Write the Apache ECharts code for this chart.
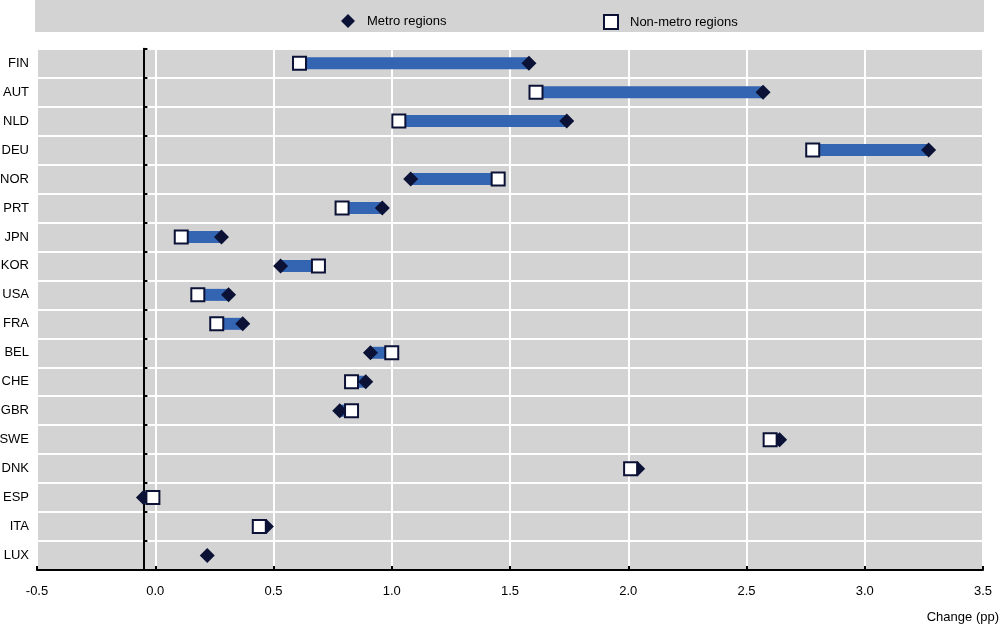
<!DOCTYPE html>
<html>
<head>
<meta charset="utf-8">
<script src="https://cdn.jsdelivr.net/npm/echarts@6/dist/echarts.min.js"></script>
<style>
  html, body { margin: 0; padding: 0; background: #fff; }
  #content { width: 1000px; height: 626px; }
</style>
</head>
<body>
<div id="content"></div>
<script>
// data
let countries = ['FIN', 'AUT', 'NLD', 'DEU', 'NOR', 'PRT', 'JPN', 'KOR', 'USA', 'FRA', 'BEL', 'CHE', 'GBR', 'SWE', 'DNK', 'ESP', 'ITA', 'LUX'];
let metro = [1.58, 2.57, 1.74, 3.27, 1.08, 0.96, 0.28, 0.53, 0.31, 0.37, 0.91, 0.89, 0.78, 2.64, 2.04, -0.05, 0.47, 0.22];
let nonMetro = [0.61, 1.61, 1.03, 2.78, 1.45, 0.79, 0.11, 0.69, 0.18, 0.26, 1.00, 0.83, 0.83, 2.60, 2.01, -0.01, 0.44, null];
let xTicks = [-0.5, 3.5, 0.5];

let navy = '#0b1236';
let font = 'Arial, "Liberation Sans", sans-serif';

let gapData = [];
for (let i = 0; i < countries.length; i++) {
    gapData.push([metro[i], nonMetro[i], i]);
}

let chart = echarts.init(document.getElementById('content'));
chart.setOption({
    animation: false,
    textStyle: { fontFamily: font },
    graphic: [{
        type: 'rect',
        left: 35, top: 0,
        shape: { width: 949, height: 32 },
        style: { fill: '#d3d3d3' },
        z: -10
    }, {
        type: 'text',
        right: 1, top: 611,
        style: { text: 'Change (pp)', fill: '#000', font: '13px ' + font }
    }],
    legend: [{
        left: 336, top: 9,
        itemWidth: 14, itemHeight: 14,
        data: [{ name: 'Metro regions', icon: 'diamond' }],
        textStyle: { color: '#000', fontSize: 13, padding: [0, 0, 0, 7] }
    }, {
        left: 598, top: 9,
        itemWidth: 14, itemHeight: 14,
        data: [{ name: 'Non-metro regions', icon: 'rect' }],
        textStyle: { color: '#000', fontSize: 13, padding: [0, 0, 0, 7] }
    }],
    grid: {
        left: 37, right: 17, top: 48.7, bottom: 56,
        outerBoundsMode: 'none',
        containLabel: false,
        show: true, backgroundColor: '#d3d3d3', borderWidth: 0
    },
    xAxis: [{
        // white vertical gridlines only
        type: 'value', z: 0, position: 'bottom',
        min: xTicks[0], max: xTicks[1], interval: xTicks[2],
        axisLine: { show: false },
        axisTick: { show: false },
        axisLabel: { show: false },
        splitLine: { show: true, lineStyle: { color: '#fff', width: 2 } }
    }, {
        type: 'value', z: 1, position: 'bottom',
        min: xTicks[0], max: xTicks[1], interval: xTicks[2],
        axisLine: { show: true, onZero: false, lineStyle: { color: '#000', width: 2 } },
        axisTick: { show: true, inside: true, length: 4, lineStyle: { color: '#000', width: 2 } },
        axisLabel: {
            color: '#000', fontSize: 13, margin: 15,
            formatter: v => v.toFixed(1)
        },
        splitLine: { show: false }
    }, {
        // hidden helper axis: puts the y axis line at -0.05
        type: 'value', show: false, position: 'top',
        min: xTicks[0] + 0.05, max: xTicks[1] + 0.05
    }],
    yAxis: [{
        type: 'category', z: 0, position: 'left',
        inverse: true,
        data: countries,
        axisLine: { show: false },
        axisTick: { show: false },
        axisLabel: { show: false },
        splitLine: { show: true, lineStyle: { color: '#fff', width: 2 } }
    }, {
        type: 'category', z: 1, position: 'left',
        inverse: true,
        data: countries,
        axisLine: { show: true, onZero: true, onZeroAxisIndex: 2, lineStyle: { color: '#000', width: 2 } },
        axisTick: { show: true, inside: true, length: 4, lineStyle: { color: '#000', width: 2 } },
        axisLabel: { color: '#000', fontSize: 13, margin: 8 },
        splitLine: { show: false }
    }],
    series: [{
        type: 'custom',
        name: 'gap',
        z: 2,
        renderItem: function (params, api) {
            let a = api.value(0), b = api.value(1);
            if (a == null || b == null || isNaN(a) || isNaN(b)) return;
            let p1 = api.coord([a, api.value(2)]);
            let p2 = api.coord([b, api.value(2)]);
            let h = 12;
            return {
                type: 'rect',
                shape: { x: Math.min(p1[0], p2[0]), y: p1[1] - h / 2, width: Math.abs(p2[0] - p1[0]), height: h },
                style: { fill: '#3465b2' }
            };
        },
        encode: { x: [0, 1], y: 2 },
        data: gapData
    }, {
        type: 'scatter',
        name: 'Metro regions',
        z: 3,
        symbol: 'diamond',
        symbolSize: 15,
        itemStyle: { color: navy, opacity: 1 },
        data: metro.map((v, i) => [v, countries[i]])
    }, {
        type: 'scatter',
        name: 'Non-metro regions',
        z: 4,
        symbol: 'rect',
        symbolSize: 13,
        itemStyle: { color: '#fff', borderColor: navy, borderWidth: 2, opacity: 1 },
        data: nonMetro.map((v, i) => [v, countries[i]]).filter(d => d[0] != null)
    }]
});
</script>
</body>
</html>
